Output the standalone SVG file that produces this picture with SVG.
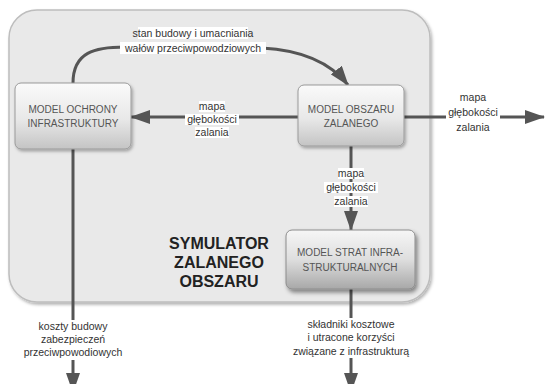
<svg xmlns="http://www.w3.org/2000/svg" width="545" height="384" viewBox="0 0 545 384">
<defs>
<linearGradient id="boxg" x1="0" y1="0" x2="0" y2="1">
<stop offset="0" stop-color="#fafafa"/>
<stop offset="0.55" stop-color="#e8e8e8"/>
<stop offset="1" stop-color="#c4c4c4"/>
</linearGradient>
<linearGradient id="boxg2" x1="0" y1="0" x2="0" y2="1">
<stop offset="0" stop-color="#f6f6f6"/>
<stop offset="0.5" stop-color="#dedede"/>
<stop offset="1" stop-color="#a8a8a8"/>
</linearGradient>
<filter id="sh" x="-10%" y="-10%" width="130%" height="130%">
<feDropShadow dx="1.5" dy="2" stdDeviation="1.5" flood-color="#000" flood-opacity="0.3"/>
</filter>
<filter id="sh2" x="-10%" y="-10%" width="130%" height="140%">
<feDropShadow dx="2" dy="3" stdDeviation="2" flood-color="#000" flood-opacity="0.45"/>
</filter>
<marker id="ah" markerUnits="userSpaceOnUse" markerWidth="20" markerHeight="14" refX="19" refY="7" orient="auto">
<path d="M0,0 L20,7 L0,14 z" fill="#555"/>
</marker>
</defs>
<style>
.con{fill:none;stroke:#555;stroke-width:3}
.box{fill:url(#boxg);stroke:#9a9a9a;stroke-width:1;filter:url(#sh)}
.bt{font-family:"Liberation Sans",Arial,sans-serif;font-size:10px;fill:#555;text-anchor:middle}
.lb{font-family:"Liberation Sans",Arial,sans-serif;font-size:10.5px;fill:#333;text-anchor:middle}
.bg{fill:#fff}
.title{font-family:"Liberation Sans",Arial,sans-serif;font-size:16px;font-weight:bold;fill:#222;text-anchor:middle}
</style>
<g id="container">
<rect x="9" y="10" width="421" height="292" rx="28" fill="#e9e9e9" stroke="#bdbdbd" stroke-width="1.5" filter="url(#sh)"/>
<text class="title" x="219" y="249">SYMULATOR</text>
<text class="title" x="219" y="268">ZALANEGO</text>
<text class="title" x="219" y="287">OBSZARU</text>
</g>
<g id="connectors">
<path class="con" d="M73,83 C73,52 95,47 125,47 L262,48 C300,50 330,62 348,85" marker-end="url(#ah)"/>
<path class="con" d="M298,117 L131,117" marker-end="url(#ah)"/>
<path class="con" d="M404,117 L544,117" marker-end="url(#ah)"/>
<path class="con" d="M351,146 L351,230" marker-end="url(#ah)"/>
<path class="con" d="M73,149 L73,392" marker-end="url(#ah)"/>
<path class="con" d="M351,289 L351,392" marker-end="url(#ah)"/>
</g>
<g id="labels">
<rect class="bg" x="138" y="27" width="110" height="12"/>
<text class="lb" x="193" y="37">stan budowy i umacniania</text>
<rect class="bg" x="120" y="42" width="146" height="12"/>
<text class="lb" x="193" y="52">wałów przeciwpowodziowych</text>
<rect class="bg" x="199" y="101" width="26" height="11"/>
<text class="lb" x="212" y="110">mapa</text>
<rect class="bg" x="185" y="114" width="54" height="11"/>
<text class="lb" x="212" y="123">głębokości</text>
<rect class="bg" x="195" y="127" width="34" height="11"/>
<text class="lb" x="212" y="136">zalania</text>
<text class="lb" x="473" y="101">mapa</text>
<rect class="bg" x="446" y="109" width="54" height="11"/>
<text class="lb" x="473" y="116">głębokości</text>
<text class="lb" x="473" y="131">zalania</text>
<rect class="bg" x="338" y="168" width="26" height="11"/>
<text class="lb" x="351" y="177">mapa</text>
<rect class="bg" x="324" y="182" width="54" height="11"/>
<text class="lb" x="351" y="191">głębokości</text>
<rect class="bg" x="334" y="196" width="34" height="11"/>
<text class="lb" x="351" y="205">zalania</text>
<rect class="bg" x="30" y="320" width="86" height="40"/>
<text class="lb" x="73" y="330">koszty budowy</text>
<text class="lb" x="73" y="343">zabezpieczeń</text>
<text class="lb" x="73" y="356">przeciwpowodiowych</text>
<rect class="bg" x="288" y="318" width="126" height="40"/>
<text class="lb" x="351" y="328">składniki kosztowe</text>
<text class="lb" x="351" y="341">i utracone korzyści</text>
<text class="lb" x="351" y="355">związane z infrastrukturą</text>
</g>
<g id="node-ochrona">
<rect class="box" x="15" y="83" width="116" height="66" rx="6"/>
<text class="bt" x="73" y="113">MODEL OCHRONY</text>
<text class="bt" x="73" y="127">INFRASTRUKTURY</text>
</g>
<g id="node-obszar">
<rect class="box" x="298" y="85" width="106" height="61" rx="6"/>
<text class="bt" x="351" y="113">MODEL OBSZARU</text>
<text class="bt" x="351" y="127">ZALANEGO</text>
</g>
<g id="node-straty">
<rect x="286" y="230" width="129" height="59" rx="6" fill="url(#boxg2)" stroke="#8c8c8c" stroke-width="1" filter="url(#sh2)"/>
<text class="bt" x="350" y="256">MODEL STRAT INFRA-</text>
<text class="bt" x="350" y="271">STRUKTURALNYCH</text>
</g>
</svg>
